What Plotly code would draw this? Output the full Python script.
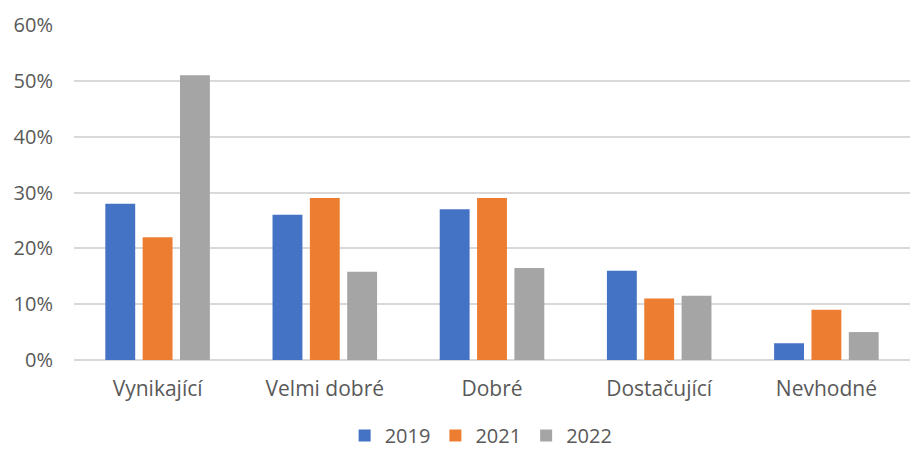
import plotly.graph_objects as go

categories = ["Vynikající", "Velmi dobré", "Dobré", "Dostačující", "Nevhodné"]
series_names = ["2019", "2021", "2022"]
values_2019 = [0.28, 0.26, 0.27, 0.16, 0.03]
values_2021 = [0.22, 0.29, 0.29, 0.11, 0.09]
values_2022 = [0.51, 0.158, 0.165, 0.115, 0.05]
colors = ["#4472C4", "#ED7D31", "#A5A5A5"]
y_ticks = [0, 0.1, 0.2, 0.3, 0.4, 0.5, 0.6]

fig = go.Figure()
for name, vals, col in zip(series_names, [values_2019, values_2021, values_2022], colors):
    fig.add_trace(go.Bar(x=categories, y=vals, name=name, marker=dict(color=col, line=dict(width=0))))

font_family = "Open Sans, Lato, sans-serif"
fig.update_layout(
    width=911, height=447,
    margin=dict(l=66, r=9, t=17, b=95, autoexpand=False),
    paper_bgcolor="white", plot_bgcolor="white",
    barmode="group", bargap=0.33, bargroupgap=0.2,
    font=dict(family=font_family, size=20, color="#595959"),
    showlegend=True,
    legend=dict(orientation="h", x=0.487, xanchor="center", y=-0.2836, yanchor="bottom",
                font=dict(size=20, color="#595959"), itemwidth=30, traceorder="normal"),
    xaxis=dict(showgrid=False, showline=False, zeroline=False, ticks="", ticklabelstandoff=14,
               tickfont=dict(size=21, color="#595959")),
    yaxis=dict(range=[0, 0.6], tickvals=y_ticks, tickformat=".0%", showgrid=True, gridcolor="#D9D9D9",
               gridwidth=1.5, zeroline=True, zerolinecolor="#D9D9D9", zerolinewidth=1.5, showline=False,
               ticks="", ticklabelstandoff=20, tickfont=dict(size=20, color="#595959")),
)

fig.write_html("out.html")
